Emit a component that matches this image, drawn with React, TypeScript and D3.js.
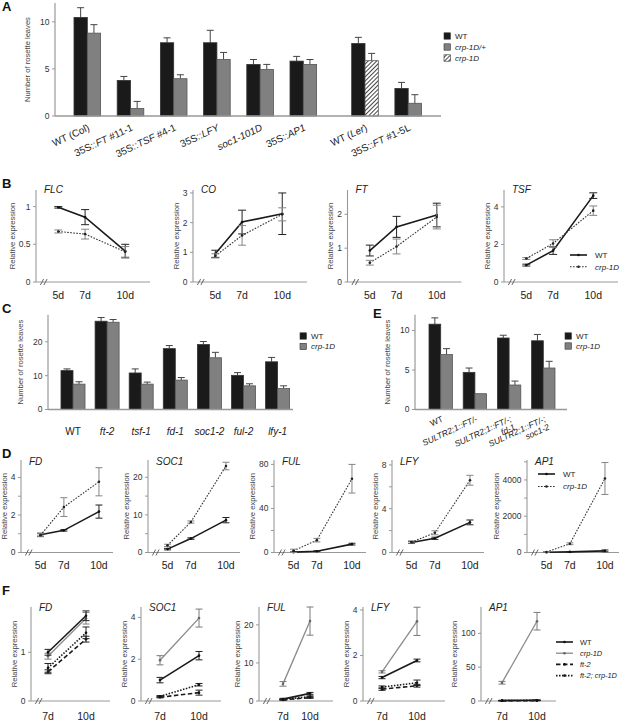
import React, { useEffect, useRef } from 'react';
import * as d3 from 'd3';

const FONT = '"Liberation Sans", Arial, Helvetica, sans-serif';
const AXIS = '#999';

// ---------- A: rosette leaves, overexpression lines ----------
// {..} = italic part
const catsA = ['WT (Col)', '35S::{FT} #11-1', '35S::{TSF} #4-1', '35S::{LFY}', '{soc1-101D}', '35S::{AP1}', 'WT ({Ler})', '35S::{FT} #1-5L'];
const backgroundA = ['Col', 'Col', 'Col', 'Col', 'Col', 'Col', 'Ler', 'Ler'];
const wtA = [10.47, 3.78, 7.78, 7.78, 5.48, 5.83, 7.7, 2.93];
const wtErrA = [1.03, 0.42, 0.52, 1.32, 0.52, 0.5, 0.65, 0.64];
const crpA = [8.8, 0.8, 3.96, 6.0, 4.95, 5.48, 5.87, 1.35];
const crpErrA = [0.9, 0.75, 0.42, 0.75, 0.53, 0.52, 0.78, 0.91];
const crpTypeA = ['het', 'het', 'het', 'het', 'het', 'het', 'hom', 'het'];
const ticksA = [0, 5, 10];
const legendA = ['WT', '{crp-1D/+}', '{crp-1D}'];

// ---------- B: FLC / CO / FT / TSF time course ----------
const daysB = [5, 7, 10];
const genesB = ['FLC', 'CO', 'FT', 'TSF'];
const wtB = [[0.99, 0.86, 0.41], [0.95, 2.02, 2.3], [0.93, 1.63, 1.98], [0.9, 1.67, 4.6]];
const wtErrB = [[0.01, 0.1, 0.09], [0.12, 0.4, 0.7], [0.16, 0.31, 0.35], [0.05, 0.2, 0.15]];
const crpB = [[0.67, 0.635, 0.4], [0.88, 1.57, 2.28], [0.57, 1.05, 1.92], [1.25, 2.05, 3.8]];
const crpErrB = [[0.02, 0.065, 0.07], [0.07, 0.33, 0.22], [0.07, 0.22, 0.35], [0.05, 0.2, 0.25]];
const yMaxB = [1.22, 3.1, 2.72, 4.9];
const ticksB = [[0, 0.5, 1], [0, 1, 2, 3], [0, 1, 2], [0, 2, 4]];

// ---------- C: mutants ----------
const catsC = ['WT', '{ft-2}', '{tsf-1}', '{fd-1}', '{soc1-2}', '{ful-2}', '{lfy-1}'];
const wtC = [11.5, 26.1, 10.8, 18.0, 19.2, 10.1, 14.1];
const wtErrC = [0.5, 1.1, 1.2, 0.9, 0.9, 0.8, 1.3];
const crpC = [7.5, 25.8, 7.5, 8.7, 15.3, 7.0, 6.2];
const crpErrC = [0.7, 0.8, 0.6, 0.75, 1.6, 0.6, 0.8];
const ticksC = [0, 10, 20];

// ---------- E: SULTR2;1::FT lines ----------
// | = line break
const catsE = ['WT', '{SULTR2;1::FT/-}', '{SULTR2;1::FT/-;}|{fd-1}', '{SULTR2;1::FT/-;}|{soc1-2}'];
const wtE = [10.8, 4.7, 9.05, 8.7];
const wtErrE = [0.8, 0.55, 0.35, 0.8];
const crpE = [6.95, 2.0, 3.1, 5.25];
const crpErrE = [0.75, 0, 0.5, 0.85];
const ticksE = [0, 5, 10];
const legendCE = ['WT', '{crp-1D}'];

// ---------- D: FD / SOC1 / FUL / LFY / AP1 time course ----------
const daysD = [5, 7, 10];
const genesD = ['FD', 'SOC1', 'FUL', 'LFY', 'AP1'];
const wtD = [[0.95, 1.18, 2.18], [0.9, 3.7, 8.6], [0.3, 1.2, 7.6], [0.92, 1.3, 2.75], [15, 35, 90]];
const wtErrD = [[0.08, 0.04, 0.35], [0.2, 0.2, 0.7], [0.2, 0.4, 0.8], [0.1, 0.1, 0.22], [10, 10, 50]];
const crpD = [[0.92, 2.42, 3.77], [1.9, 8.1, 23.0], [1.5, 11.2, 67], [0.95, 1.8, 6.6], [25, 480, 4080]];
const crpErrD = [[0.08, 0.5, 0.75], [0.3, 0.3, 1.0], [1.5, 1.6, 13], [0.1, 0.18, 0.45], [15, 50, 880]];
const yMaxD = [4.93, 24.6, 84, 8.45, 5100];
const ticksD = [[0, 1, 2, 3, 4], [0, 5, 10, 15, 20], [0, 20, 40, 60, 80], [0, 2, 4, 6, 8], [0, 1000, 2000, 3000, 4000, 5000]];
const labelsD = [[0, 2, 4], [0, 10, 20], [0, 40, 80], [0, 4, 8], [0, 2000, 4000]];

// ---------- F: ft-2 background ----------
const daysF = [7, 10];
const genesF = ['FD', 'SOC1', 'FUL', 'LFY', 'AP1'];
const wtF = [[1.0, 1.75], [1.0, 2.17], [0.5, 2.0], [1.03, 1.78], [0.8, 1.2]];
const wtErrF = [[0.06, 0.1], [0.13, 0.2], [0.2, 0.25], [0.05, 0.06], [0.3, 0.4]];
const crpF = [[0.92, 1.7], [1.95, 3.97], [4.5, 21], [1.28, 3.5], [27, 118]];
const crpErrF = [[0.06, 0.12], [0.22, 0.43], [0.6, 3.7], [0.05, 0.62], [2, 13]];
const ft2F = [[0.6, 1.27], [0.18, 0.4], [0.3, 0.9], [0.52, 0.67], [0.3, 0.6]];
const ft2ErrF = [[0.04, 0.06], [0.03, 0.12], [0.1, 0.2], [0.05, 0.06], [0.1, 0.2]];
const ft2crpF = [[0.68, 1.4], [0.22, 0.78], [0.45, 1.15], [0.61, 0.8], [0.5, 1.0]];
const ft2crpErrF = [[0.09, 0.12], [0.04, 0.06], [0.1, 0.2], [0.05, 0.12], [0.1, 0.3]];
const yMaxF = [1.93, 4.5, 24.7, 4.13, 139];
const ticksF = [[0, 1], [0, 2, 4], [0, 10, 20], [0, 2, 4], [0, 50, 100]];
const legendF = ['WT', '{crp-1D}', '{ft-2}', '{ft-2; crp-1D}'];

// line styles
const STY: any = {
  wt: { stroke: '#1a1a1a', width: 1.6, dash: null, err: '#222', dot: '#111' },
  crpDot: { stroke: '#333', width: 1.1, dash: '1.6,1.4', err: '#858585', dot: '#222' },
  crpGray: { stroke: '#8a8a8a', width: 1.3, dash: null, err: '#7a7a7a', dot: '#666' },
  ft2: { stroke: '#1a1a1a', width: 1.6, dash: '4.5,2.5', err: '#222', dot: '#111' },
  ft2crp: { stroke: '#1a1a1a', width: 1.6, dash: '1.5,1.5', err: '#222', dot: '#111' },
};

// text with {italic} parts
function rich(sel: any, markup: string) {
  markup.split(/(\{[^}]*\})/).filter((s) => s.length).forEach((part) => {
    const it = part.startsWith('{');
    sel.append('tspan').attr('font-style', it ? 'italic' : 'normal').text(it ? part.slice(1, -1) : part);
  });
}

function letter(svg: any, x: number, y: number, t: string) {
  svg.append('text').attr('x', x).attr('y', y).attr('font-size', 13).attr('font-weight', 'bold').attr('fill', '#111').text(t);
}

function yLabel(g: any, x: number, y: number, t: string) {
  g.append('text').attr('transform', `translate(${x},${y}) rotate(-90)`).attr('text-anchor', 'middle')
    .attr('dy', '0.35em').attr('font-size', 7.6).attr('fill', '#444').text(t);
}

function yTicks(g: any, y: any, x0: number, ticks: number[], labelled: number[], fmt: (v: number) => string) {
  ticks.forEach((t) => {
    g.append('line').attr('x1', x0 - 3).attr('x2', x0).attr('y1', y(t)).attr('y2', y(t)).attr('stroke', AXIS).attr('stroke-width', 1);
  });
  let w = 0;
  labelled.forEach((t) => {
    const n = g.append('text').attr('x', x0 - 5.5).attr('y', y(t)).attr('dy', '0.35em').attr('text-anchor', 'end')
      .attr('font-size', 8.5).attr('fill', '#333').text(fmt(t));
    w = Math.max(w, n.node().getComputedTextLength());
  });
  return w;
}

function barPanel(svg: any, p: any) {
  const g = svg.append('g');
  const y = d3.scaleLinear().domain([0, p.yMax]).range([p.base, p.top]);
  const x = d3.scaleBand().domain(p.cats).range(p.xRange).paddingInner(p.pad).paddingOuter(p.pad / 2);
  const sub = d3.scaleBand().domain(['wt', 'crp']).range([0, x.bandwidth()]);
  const off = (i: number) => (p.shift ? p.shift(i) : 0);

  g.append('line').attr('x1', p.x0).attr('x2', p.x0).attr('y1', p.top).attr('y2', p.base).attr('stroke', AXIS).attr('stroke-width', 1.2);
  const w = yTicks(g, y, p.x0, p.ticks, p.ticks, (v) => String(v));
  yLabel(g, p.x0 - 5.5 - w - 12.5, (p.top + p.base) / 2, 'Number of rosette leaves');

  p.cats.forEach((c: string, i: number) => {
    const gx = (x(c) as number) + off(i);
    const rows: any[] = [['wt', p.wt[i], p.wtErr[i], '#1a1a1a', '#333'], ['crp', p.crp[i], p.crpErr[i], p.crpFill(i), '#555']];
    rows.forEach(([k, v, e, fill, stroke]) => {
      const bx = gx + (sub(k) as number);
      const bw = sub.bandwidth();
      if (e > 0) {
        g.append('line').attr('x1', bx + bw / 2).attr('x2', bx + bw / 2).attr('y1', y(v)).attr('y2', y(v + e)).attr('stroke', '#444').attr('stroke-width', 1);
        g.append('line').attr('x1', bx + bw / 2 - 3.5).attr('x2', bx + bw / 2 + 3.5).attr('y1', y(v + e)).attr('y2', y(v + e)).attr('stroke', '#444').attr('stroke-width', 1);
      }
      g.append('rect').attr('x', bx).attr('y', y(v)).attr('width', bw).attr('height', p.base - y(v))
        .attr('fill', fill).attr('stroke', stroke).attr('stroke-width', 0.8);
    });
    const cx = gx + x.bandwidth() / 2;
    if (p.rotate) {
      const t = g.append('text').attr('transform', `translate(${cx + p.labelDx},${p.labelY}) rotate(-25)`)
        .attr('text-anchor', 'end').attr('font-size', p.labelSize).attr('fill', '#222');
      c.split('|').forEach((line, li) => {
        const ln = t.append('tspan').attr('x', 0).attr('dy', li ? '1.05em' : 0);
        rich(ln, line);
      });
    } else {
      const t = g.append('text').attr('x', cx).attr('y', p.labelY).attr('text-anchor', 'middle').attr('font-size', p.labelSize).attr('fill', '#222');
      rich(t, c);
    }
  });
  g.append('line').attr('x1', p.x0).attr('x2', p.xEnd).attr('y1', p.base).attr('y2', p.base).attr('stroke', AXIS).attr('stroke-width', 1.3);
}

function squareLegend(svg: any, x: number, y0: number, dy: number, items: string[], fills: string[]) {
  items.forEach((it, i) => {
    const y = y0 + i * dy;
    svg.append('rect').attr('x', x).attr('y', y - 3.2).attr('width', 6.4).attr('height', 6.4).attr('fill', fills[i]).attr('stroke', '#333').attr('stroke-width', 0.6);
    const t = svg.append('text').attr('x', x + 11).attr('y', y).attr('dy', '0.35em').attr('font-size', 8).attr('fill', '#222');
    rich(t, it);
  });
}

function lineLegend(svg: any, x: number, y0: number, dy: number, items: string[], styles: any[], size = 8, gap = 25) {
  items.forEach((it, i) => {
    const y = y0 + i * dy;
    const s = styles[i];
    svg.append('line').attr('x1', x).attr('x2', x + 17).attr('y1', y).attr('y2', y).attr('stroke', s.stroke)
      .attr('stroke-width', s.width).attr('stroke-dasharray', s.dash);
    svg.append('circle').attr('cx', x + 8.5).attr('cy', y).attr('r', 1.3).attr('fill', s.dot);
    const t = svg.append('text').attr('x', x + gap).attr('y', y).attr('dy', '0.35em').attr('font-size', size).attr('fill', '#222');
    rich(t, it);
  });
}

function linePanel(svg: any, p: any) {
  const g = svg.append('g');
  const x = p.x;
  const y = d3.scaleLinear().domain([0, p.yMax]).range([p.base, p.top]);

  g.append('line').attr('x1', p.x0).attr('x2', p.x0).attr('y1', p.top).attr('y2', p.base).attr('stroke', AXIS).attr('stroke-width', 1.1);
  g.append('line').attr('x1', p.x0).attr('x2', p.xEnd).attr('y1', p.base).attr('y2', p.base).attr('stroke', AXIS).attr('stroke-width', 1.1);
  [6, 9.5].forEach((dx) => {
    g.append('line').attr('x1', p.x0 + dx - 1.6).attr('x2', p.x0 + dx + 1.6).attr('y1', p.base + 3).attr('y2', p.base - 3)
      .attr('stroke', '#555').attr('stroke-width', 0.9);
  });
  const w = yTicks(g, y, p.x0, p.ticks, p.labelled, (v) => String(v));
  yLabel(g, p.x0 - 5.5 - w - 6.5, (p.top + p.base) / 2, 'Relative expression');

  p.days.forEach((d: number) => {
    g.append('text').attr('x', x(d)).attr('y', p.base + p.tickDy).attr('text-anchor', 'middle')
      .attr('font-size', 10.5).attr('fill', '#222').text(`${d}d`);
  });
  g.append('text').attr('x', p.x0 + p.titleDx).attr('y', p.titleY).attr('font-size', 10).attr('font-style', 'italic')
    .attr('fill', '#222').text(p.title);

  const line = d3.line<number>().x((_, i) => x(p.days[i])).y((v) => y(v));
  p.series.forEach((s: any) => {
    g.append('path').attr('d', line(s.vals)).attr('fill', 'none').attr('stroke', s.style.stroke)
      .attr('stroke-width', s.style.width).attr('stroke-dasharray', s.style.dash);
  });
  p.series.forEach((s: any) => {
    s.vals.forEach((v: number, i: number) => {
      const cx = x(p.days[i]);
      const e = s.errs[i];
      const lo = y(Math.max(0, v - e));
      const hi = y(v + e);
      g.append('line').attr('x1', cx).attr('x2', cx).attr('y1', lo).attr('y2', hi).attr('stroke', s.style.err).attr('stroke-width', 1);
      [lo, hi].forEach((yy) => {
        g.append('line').attr('x1', cx - p.cap).attr('x2', cx + p.cap).attr('y1', yy).attr('y2', yy).attr('stroke', s.style.err).attr('stroke-width', 1);
      });
      g.append('circle').attr('cx', cx).attr('cy', y(v)).attr('r', 1.3).attr('fill', s.style.dot);
    });
  });
}

export default function App() {
  const ref = useRef<SVGSVGElement>(null);

  useEffect(() => {
    const svg = d3.select(ref.current);
    svg.selectAll('*').remove();

    const defs = svg.append('defs');
    const pat = defs.append('pattern').attr('id', 'hatch').attr('width', 3).attr('height', 3)
      .attr('patternUnits', 'userSpaceOnUse').attr('patternTransform', 'rotate(45)');
    pat.append('rect').attr('width', 3).attr('height', 3).attr('fill', '#fff');
    pat.append('line').attr('x1', 0).attr('y1', 0).attr('x2', 0).attr('y2', 3).attr('stroke', '#222').attr('stroke-width', 1.7);

    // A
    letter(svg, 2, 11, 'A');
    barPanel(svg, {
      cats: catsA, wt: wtA, wtErr: wtErrA, crp: crpA, crpErr: crpErrA,
      crpFill: (i: number) => (crpTypeA[i] === 'hom' ? 'url(#hatch)' : '#808080'),
      yMax: 12, base: 116, top: 3, x0: 55, xEnd: 441, xRange: [65.7, 411.3], pad: 0.384,
      shift: (i: number) => (backgroundA[i] === 'Ler' ? 18.5 : 0),
      ticks: ticksA, rotate: true, labelDx: 3, labelY: 130, labelSize: 10,
    });
    squareLegend(svg, 444, 36, 11, legendA, ['#1a1a1a', '#808080', 'url(#hatch)']);

    // B
    letter(svg, 2, 188, 'B');
    const x0B = [36, 193, 347.5, 504];
    genesB.forEach((gname, k) => {
      const x = d3.scaleLinear().domain([3.333, 11.85]).range([x0B[k], x0B[k] + 114]);
      linePanel(svg, {
        x, x0: x0B[k], xEnd: x0B[k] + 114, base: 282, top: 190, yMax: yMaxB[k],
        ticks: ticksB[k], labelled: ticksB[k], days: daysB, tickDy: 17, title: gname, titleDx: 8, titleY: 193, cap: 4,
        series: [
          { vals: wtB[k], errs: wtErrB[k], style: STY.wt },
          { vals: crpB[k], errs: crpErrB[k], style: STY.crpDot },
        ],
      });
    });
    lineLegend(svg, 570, 255, 11.7, legendCE, [STY.wt, STY.crpDot]);

    // C
    letter(svg, 2, 313, 'C');
    barPanel(svg, {
      cats: catsC, wt: wtC, wtErr: wtErrC, crp: crpC, crpErr: crpErrC, crpFill: () => '#808080',
      yMax: 28, base: 409.5, top: 314.8, x0: 48, xEnd: 293, xRange: [55.95, 294.65], pad: 0.296,
      ticks: ticksC, rotate: false, labelY: 435, labelSize: 10,
    });
    squareLegend(svg, 300, 336, 10.5, legendCE, ['#1a1a1a', '#808080']);

    // E
    letter(svg, 373, 318, 'E');
    barPanel(svg, {
      cats: catsE, wt: wtE, wtErr: wtErrE, crp: crpE, crpErr: crpErrE, crpFill: () => '#808080',
      yMax: 12, base: 409.5, top: 314.7, x0: 415, xEnd: 567, xRange: [423.6, 560.4], pad: 0.316,
      ticks: ticksE, rotate: true, labelDx: 3, labelY: 421, labelSize: 8.5,
    });
    squareLegend(svg, 565, 336, 10, legendCE, ['#1a1a1a', '#808080']);

    // D
    letter(svg, 2, 458, 'D');
    const x0D = [21, 148, 274, 392, 527];
    genesD.forEach((gname, k) => {
      const x = d3.scaleLinear().domain([3.333, 11.2]).range([x0D[k], x0D[k] + 92]);
      linePanel(svg, {
        x, x0: x0D[k], xEnd: x0D[k] + 92, base: 552.5, top: 460, yMax: yMaxD[k],
        ticks: ticksD[k], labelled: labelsD[k], days: daysD, tickDy: 16, title: gname, titleDx: 8, titleY: 465, cap: 3.5,
        series: [
          { vals: wtD[k], errs: wtErrD[k], style: STY.wt },
          { vals: crpD[k], errs: crpErrD[k], style: STY.crpDot },
        ],
      });
    });
    lineLegend(svg, 538, 474, 12.5, legendCE, [STY.wt, STY.crpDot]);

    // F
    letter(svg, 2, 595, 'F');
    const layoutF = [
      { x0: 31, w: 79, o7: 17, o10: 55 },
      { x0: 141, w: 80, o7: 19, o10: 58 },
      { x0: 259, w: 74, o7: 24, o10: 51 },
      { x0: 363, w: 82, o7: 19, o10: 54 },
      { x0: 481, w: 75, o7: 21, o10: 56 },
    ];
    genesF.forEach((gname, k) => {
      const L = layoutF[k];
      const x = d3.scaleLinear().domain([7, 10]).range([L.x0 + L.o7, L.x0 + L.o10]);
      linePanel(svg, {
        x, x0: L.x0, xEnd: L.x0 + L.w, base: 701, top: 607, yMax: yMaxF[k],
        ticks: ticksF[k], labelled: ticksF[k], days: daysF, tickDy: 19, title: gname, titleDx: 8, titleY: 611, cap: 3.5,
        series: [
          { vals: crpF[k], errs: crpErrF[k], style: STY.crpGray },
          { vals: ft2F[k], errs: ft2ErrF[k], style: STY.ft2 },
          { vals: ft2crpF[k], errs: ft2crpErrF[k], style: STY.ft2crp },
          { vals: wtF[k], errs: wtErrF[k], style: STY.wt },
        ],
      });
    });
    lineLegend(svg, 556, 642, 11.2, legendF, [STY.wt, STY.crpGray, STY.ft2, STY.ft2crp], 7.4, 24);
  }, []);

  return (
    <svg ref={ref} width={621} height={721} fontFamily={FONT}
      style={{ position: 'absolute', left: 0, top: 0, background: '#fff' }} />
  );
}
